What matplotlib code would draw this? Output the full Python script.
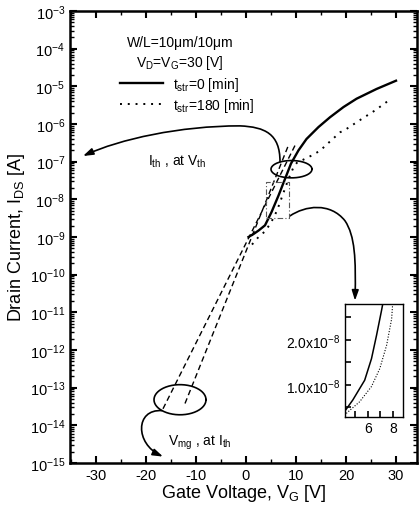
import numpy as np
import matplotlib
matplotlib.use('Agg')
import matplotlib.pyplot as plt
from matplotlib.patches import FancyArrowPatch
from matplotlib.path import Path
from matplotlib.ticker import LogLocator, MultipleLocator, FixedLocator, FuncFormatter, NullFormatter

plt.rcParams['font.family'] = ['Liberation Sans', 'DejaVu Sans']
plt.rcParams['mathtext.fontset'] = 'custom'
plt.rcParams['mathtext.rm'] = 'Liberation Sans'
plt.rcParams['mathtext.it'] = 'Liberation Sans'
plt.rcParams['mathtext.bf'] = 'Liberation Sans:bold'
plt.rcParams['axes.unicode_minus'] = False

# measured transfer curves, t_str = 0 and 180 min
vg_0 = [0.5, 1.5, 2.5, 3.8, 5.1, 6.5, 7.8, 9.0, 10.5, 12.1, 14.5, 16.8, 19.5, 22.1, 26.1, 30.0]
id_0 = [1.0e-9, 1.2e-9, 1.48e-9, 2.04e-9, 4.57e-9, 1.26e-8, 3.47e-8, 8.9e-8, 2.0e-7, 4.0e-7,
        8.3e-7, 1.51e-6, 2.82e-6, 4.68e-6, 8.5e-6, 1.41e-5]
vg_180 = [1.2, 2.5, 3.8, 5.0, 6.2, 7.4, 8.5, 9.5, 10.3, 11.4, 13.1, 14.8, 16.5, 18.8, 20.1, 23.1, 25.8, 28.8]
id_180 = [6.3e-10, 1.0e-9, 1.41e-9, 2.4e-9, 5.0e-9, 1.38e-8, 3.47e-8, 7.1e-8, 9.8e-8, 1.12e-7,
          1.45e-7, 1.95e-7, 3.16e-7, 6.0e-7, 7.4e-7, 1.35e-6, 2.29e-6, 4.47e-6]

# linear extrapolations (subthreshold slope) down to V_mg
ext_v_0 = [-16.6, 9.8]
ext_i_0 = [2.75e-14, 2.69e-7]
ext_v_180 = [-12.2, 8.5]
ext_i_180 = [3.8e-14, 2.75e-7]

# inset (linear scale)
in_v_0 = [4.16, 4.82, 5.76, 6.30, 6.70, 7.10, 7.22, 7.4]
in_i_0 = [0.40e-8, 0.66e-8, 1.10e-8, 1.58e-8, 2.10e-8, 2.66e-8, 2.84e-8, 3.2e-8]
in_v_180 = [4.30, 5.36, 6.30, 6.96, 7.50, 7.90, 7.98, 8.1]
in_i_180 = [0.36e-8, 0.62e-8, 0.96e-8, 1.36e-8, 1.88e-8, 2.47e-8, 2.81e-8, 3.2e-8]

x_ticks = [-30, -20, -10, 0, 10, 20, 30]

fig = plt.figure(figsize=(4.2, 5.1), dpi=100)
ax = fig.add_axes([70/420, 1-464/510, 347/420, 452/510])
ax.set_yscale('log')
ax.set_xlim(-35.2, 34.2)
ax.set_ylim(1e-15, 1e-3)

ax.plot(vg_0, id_0, color='k', lw=1.7, label='t$_{str}$=0 [min]')
ax.plot(vg_180, id_180, color='k', lw=1.4, ls=(0, (1, 3)), label='t$_{str}$=180 [min]')
ax.plot(ext_v_0, ext_i_0, color='k', lw=1.0, ls=(0, (4, 2.5)))
ax.plot(ext_v_180, ext_i_180, color='k', lw=1.0, ls=(0, (4, 2.5)))

# ellipses marking I_th and V_mg
t = np.linspace(0, 2*np.pi, 200)
ax.plot(9.1 + 4.1*np.cos(t), 10**(-7.2 + 0.23*np.sin(t)), color='k', lw=1.2)
ax.plot(-13.2 + 5.2*np.cos(t), 10**(-13.32 + 0.40*np.sin(t)), color='k', lw=1.2)

# dashed zoom box
bx = [4.1, 8.7, 8.7, 4.1, 4.1]
by = [10**-8.5, 10**-8.5, 10**-7.53, 10**-7.53, 10**-8.5]
ax.plot(bx, by, color='0.35', lw=0.8, ls=(0, (5, 2, 1, 2)))

def curve_arrow(pts):
    xy = [(v, 10**li) for v, li in pts]
    fr = ax.transAxes.inverted().transform(ax.transData.transform(xy))
    codes = [Path.MOVETO] + [Path.CURVE4]*(len(pts)-1)
    p = FancyArrowPatch(path=Path(fr, codes), transform=ax.transAxes,
                        arrowstyle='-|>,head_length=0.6,head_width=0.2',
                        mutation_scale=10, lw=1.2, color='k', clip_on=False)
    ax.add_patch(p)

curve_arrow([(6.8, -7.0), (6.8, -6.26), (3.8, -6.08), (-1.2, -6.05),
             (-13.2, -6.05), (-25.2, -6.40), (-32.6, -6.85)])
curve_arrow([(8.8, -8.44), (11.8, -8.17), (16.8, -8.07), (19.8, -8.57),
             (21.8, -8.97), (22.0, -9.58), (21.8, -10.69)])
curve_arrow([(-16.8, -13.61), (-22.2, -13.56), (-22.2, -14.49), (-16.6, -14.83)])

ax.text(0.317, 0.931, 'W/L=10\u03bcm/10\u03bcm', transform=ax.transAxes, ha='center', va='center', fontsize=10)
ax.text(0.317, 0.887, 'V$_D$=V$_G$=30 [V]', transform=ax.transAxes, ha='center', va='center', fontsize=10)
ax.text(0.225, 0.668, 'I$_{th}$ , at V$_{th}$', transform=ax.transAxes, ha='left', va='center', fontsize=10)
ax.text(0.282, 0.046, 'V$_{mg}$ , at I$_{th}$', transform=ax.transAxes, ha='left', va='center', fontsize=10)

ax.legend(loc='upper left', bbox_to_anchor=(0.144, 0.858), frameon=False, fontsize=10,
          handlelength=3.1, handletextpad=0.7, labelspacing=0.2, borderpad=0, borderaxespad=0)

ax.xaxis.set_major_locator(FixedLocator(x_ticks))
ax.xaxis.set_minor_locator(MultipleLocator(5))
ax.yaxis.set_major_locator(LogLocator(base=10, subs=(1.0,), numticks=30))
ax.yaxis.set_minor_locator(LogLocator(base=10, subs=np.arange(2, 10), numticks=30))
ax.yaxis.set_minor_formatter(NullFormatter())
ax.tick_params(which='both', direction='in', top=True, right=True, labelsize=10.5)
ax.tick_params(which='major', length=5, width=1.5)
ax.tick_params(which='minor', length=3, width=1.0)
for s in ax.spines.values():
    s.set_linewidth(1.8)

ax.set_xlabel('Gate Voltage, V$_G$ [V]', fontsize=13, labelpad=0)
ax.set_ylabel('Drain Current, I$_{DS}$ [A]', fontsize=13, labelpad=2)

# inset
ins = fig.add_axes([345/420, 1-418/510, 58/420, 113/510])
ins.plot(in_v_0, in_i_0, color='k', lw=1.1)
ins.plot(in_v_180, in_i_180, color='k', lw=0.8, ls=(0, (1, 1.5)))
ins.set_xlim(4.2, 8.8)
ins.set_ylim(0.28e-8, 2.8e-8)
ins.xaxis.set_major_locator(FixedLocator([6, 8]))
ins.xaxis.set_minor_locator(FixedLocator([5, 7]))
ins.yaxis.set_major_locator(FixedLocator([1.0e-8, 2.0e-8]))
ins.yaxis.set_minor_locator(FixedLocator([0.5e-8, 1.5e-8, 2.5e-8]))
ins.yaxis.set_major_formatter(FuncFormatter(lambda v, p: '%.1fx10$^{-8}$' % (v/1e-8)))
ins.tick_params(which='both', direction='in', labelsize=10, pad=3)
ins.tick_params(which='major', length=4, width=1.2)
ins.tick_params(which='minor', length=4, width=1.2)
for s in ins.spines.values():
    s.set_linewidth(1.0)

fig.savefig('out.png', dpi=100)
